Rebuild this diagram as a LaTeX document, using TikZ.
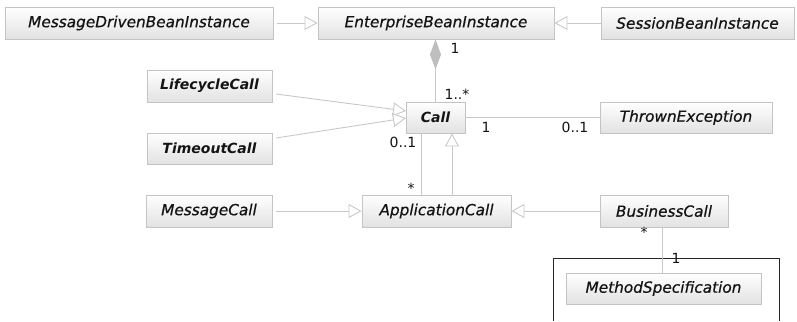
\documentclass[tikz,border=0pt]{standalone}
\usepackage{fontspec}
\setmainfont{DejaVu Sans}
\newfontfamily\semibobl{DejaVu Sans Oblique}[FakeBold=0.6]
\usetikzlibrary{arrows.meta,shadows}
\definecolor{linegray}{RGB}{200,200,200}
\definecolor{boxborder}{RGB}{196,196,196}
\definecolor{boxbottom}{RGB}{226,226,226}
\definecolor{diamondgray}{RGB}{190,190,190}
\definecolor{txt}{RGB}{20,20,20}
\tikzset{
  cls/.style={draw=boxborder, line width=0.9pt, top color=white, bottom color=boxbottom,
    minimum height=32pt, inner sep=0pt, text=txt,
    font=\fontsize{15.3}{18}\semibobl,
    drop shadow={shadow xshift=1.2pt, shadow yshift=-1.2pt, fill=black, opacity=0.12}},
  clsb/.style={cls, font=\fontsize{14}{17}\selectfont\bfseries\itshape},
  conn/.style={draw=linegray, line width=0.9pt},
  gen/.style={conn, -{Triangle[open, length=13pt, width=14pt, fill=white]}},
  comp/.style={conn, {Diamond[length=30pt, width=11pt, fill=diamondgray, color=diamondgray]}-},
  mult/.style={font=\fontsize{14}{16}\selectfont, text=txt, inner sep=0pt}
}
\begin{document}
\begin{tikzpicture}[x=1pt,y=-1pt]
\useasboundingbox (0,0) rectangle (797,321);
% classes
\node[cls, minimum width=268pt] (mdbi) at (139,23) {MessageDrivenBeanInstance};
\node[cls, minimum width=236pt] (ebi) at (436,23) {EnterpriseBeanInstance};
\node[cls, minimum width=193pt] (sbi) at (697.5,23) {SessionBeanInstance};
\node[clsb, minimum width=125pt] (life) at (209.5,86) {LifecycleCall};
\node[clsb, minimum width=125pt, minimum height=31pt] (timeout) at (209.5,148.5) {TimeoutCall};
\node[clsb, minimum width=59pt, minimum height=31pt] (call) at (435.5,117.5) {Call};
\node[cls, minimum width=172pt, minimum height=31pt] (thrown) at (686,117.5) {ThrownException};
\node[cls, minimum width=126pt] (msgcall) at (209,211) {MessageCall};
\node[cls, minimum width=149pt] (appcall) at (436.5,211) {ApplicationCall};
\node[cls, minimum width=128pt] (bizcall) at (664,211) {BusinessCall};
\node[cls, minimum width=195pt, minimum height=31pt] (mspec) at (663.5,288.5) {MethodSpecification};
% frame
\draw[black!85, line width=0.9pt] (553,321) -- (553,258) -- (779,258) -- (779,321);
% helper columns
\coordinate (xa) at (421,0);
\coordinate (xb) at (452,0);
\coordinate (xc) at (662,0);
% connectors
\draw[gen] ([xshift=4pt]mdbi.east) -- (ebi.west);
\draw[gen] (sbi.west) -- (ebi.east);
\draw[comp] (ebi.south -| call.north) -- (call.north);
\coordinate (lifeA) at (276,94);
\coordinate (lifeB) at (406,111);
\coordinate (toA) at (276,138);
\coordinate (toB) at (406,118);
\draw[gen] (lifeA) -- (lifeB);
\draw[gen] (toA) -- (toB);
\draw[conn] (call.east) -- (thrown.west);
\draw[conn] (call.south -| xa) -- (appcall.north -| xa);
\draw[gen] (appcall.north -| xb) -- (call.south -| xb);
\draw[gen] ([xshift=4pt]msgcall.east) -- (appcall.west);
\draw[gen] (bizcall.west) -- (appcall.east);
\draw[conn] (bizcall.south -| xc) -- (mspec.north -| xc);
% multiplicities
\node[mult] (m1) at (455,48) {1};
\node[mult] (m2) at (457,94) {1..*};
\node[mult] (m3) at (403,142) {0..1};
\node[mult] (m4) at (486,127) {1};
\node[mult] (m5) at (575,127) {0..1};
\node[mult] (m6) at (411,188) {*};
\node[mult] (m7) at (644,232) {*};
\node[mult] (m8) at (676,258) {1};
\end{tikzpicture}
\end{document}
